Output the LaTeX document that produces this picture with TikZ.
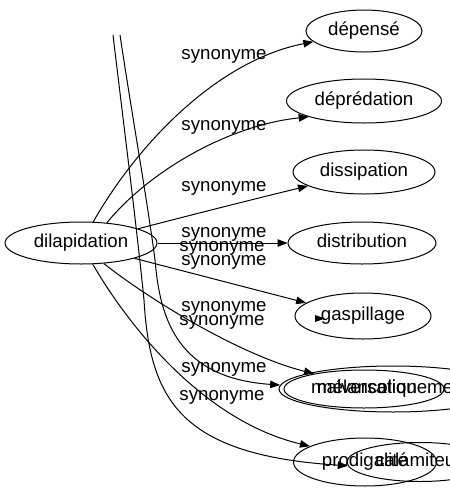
\documentclass[tikz,border=0pt]{standalone}
\usepackage{fontspec}
\setmainfont{Liberation Sans}
\usetikzlibrary{shapes.geometric,arrows.meta}
\begin{document}
\begin{tikzpicture}[x=1pt,y=-1pt,
  every node/.style={font=\fontsize{18.67}{22}\selectfont, inner sep=0pt, text height=13.6pt, text depth=3.9pt},
  term/.style={draw, ellipse, line width=1pt, inner sep=0pt},
  lbl/.style={text height=9.7pt, text depth=3.9pt},
  arr/.style={draw, line width=1pt, -{Triangle[length=10pt,width=7.5pt]}}]
\useasboundingbox (0,0) rectangle (450,491);
\clip (0,0) rectangle (450,491);
% nodes
\node[term, minimum width=152, minimum height=42] (dil) at (81,243) {dilapidation};
\node[term, minimum width=116, minimum height=42] (dep) at (364,31) {dépensé};
\node[term, minimum width=155, minimum height=44] (depr) at (364,101) {déprédation};
\node[term, minimum width=142, minimum height=44] (diss) at (364,172) {dissipation};
\node[term, minimum width=148, minimum height=42] (distr) at (362,243) {distribution};
\node[term, minimum width=136, minimum height=46] (gasp) at (363,316) {gaspillage};
\node[term, minimum width=228, minimum height=46] (melan) at (393,389) {mélancoliquement};
\node[term, minimum width=160, minimum height=38] (malv) at (364,389) {malversation};
\node[term, minimum width=143, minimum height=48] (prod) at (365,462) {prodigalité};
\node[term, minimum width=146, minimum height=39] (cala) at (420,462) {calamiteux};
% free ends
\coordinate (topA) at (113,35);
\coordinate (topB) at (120,35);
% labels
\node[lbl] (l1) at (224,57) {synonyme};
\node[lbl] (l2) at (224,128) {synonyme};
\node[lbl] (l3) at (224,189) {synonyme};
\node[lbl] (l4a) at (224,235) {synonyme};
\node[lbl] (l4b) at (222,249) {synonyme};
\node[lbl] (l4c) at (224,263) {synonyme};
\node[lbl] (l5a) at (224,309) {synonyme};
\node[lbl] (l5b) at (222,323) {synonyme};
\node[lbl] (l6) at (224,370) {synonyme};
\node[lbl] (l7) at (222,398) {synonyme};
% edges
\draw[arr] (dil.60) .. controls (140,140) and (220,60) .. (dep.192);
\draw[arr] (dil.38) .. controls (150,170) and (230,125) .. (depr.196);
\draw[arr] (dil.14) .. controls (195,214) and (250,200) .. (diss.194);
\draw[arr] (dil.0) -- (distr.180);
\draw[arr] (dil.-16) -- (gasp.167);
\draw[arr] (dil.-42) .. controls (150,300) and (240,355) .. (malv.163);
\draw[arr] (dil.-61) .. controls (125,320) and (200,420) .. (prod.164);
\draw[arr] (topA) .. controls (125,135) and (137,230) .. (144,300) .. controls (150,400) and (180,455) .. (cala.183);
\draw[arr] (topB) .. controls (132,115) and (148,205) .. (155,260) .. controls (160,320) and (178,378) .. (melan.178);
% lone arrowhead inside gaspillage
\fill (325,318.5) -- (315,315) -- (315,322) -- cycle;
\end{tikzpicture}
\end{document}
